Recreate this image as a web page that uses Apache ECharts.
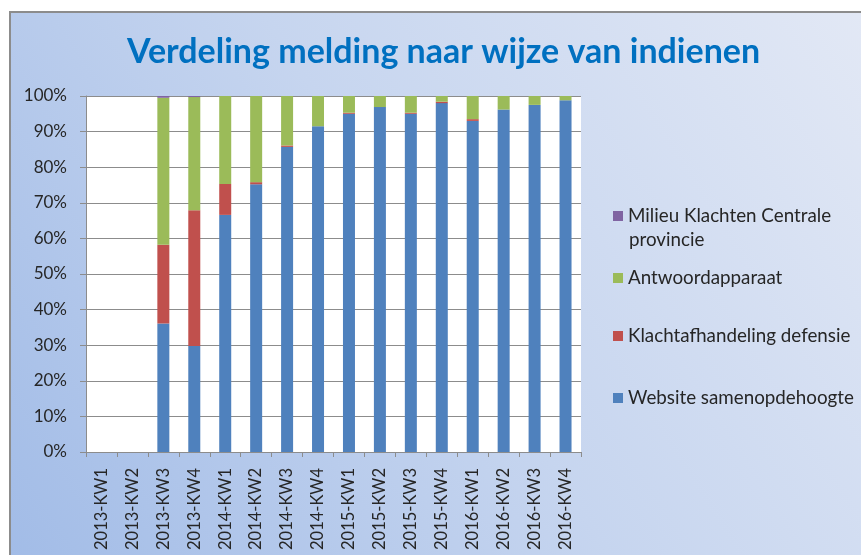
<!DOCTYPE html>
<html>
<head>
<meta charset="utf-8">
<script src="https://cdn.jsdelivr.net/npm/echarts@6/dist/echarts.min.js"></script>
<style>
  body { margin: 0; background: #fff; }
  #main {
    position: absolute; left: 9px; top: 11px;
    width: 852px; height: 544px;
    border-top: 2px solid #8c8c8c; border-left: 2px solid #8c8c8c;
    box-sizing: border-box;
  }
</style>
</head>
<body>
<div id="main"></div>
<script type="text/javascript">
// kwartalen
var categories = ['2013-KW1','2013-KW2','2013-KW3','2013-KW4','2014-KW1','2014-KW2','2014-KW3','2014-KW4',
                  '2015-KW1','2015-KW2','2015-KW3','2015-KW4','2016-KW1','2016-KW2','2016-KW3','2016-KW4'];
// aandeel per kanaal (%)
var website   = [0, 0, 36.1, 29.8, 66.6, 75.2, 85.7, 91.5, 95.0, 96.9, 95.0, 98.0, 93.0, 96.2, 97.5, 98.8];
var klacht    = [0, 0, 22.1, 38.1, 8.7, 0.6, 0.4, 0, 0.3, 0, 0.3, 0.4, 0.5, 0, 0, 0];
var antwoord  = [0, 0, 41.3, 31.8, 24.7, 24.2, 13.9, 8.5, 4.7, 3.1, 4.7, 1.6, 6.5, 3.8, 2.5, 1.2];
var milieu    = [0, 0, 0.5, 0.3, 0, 0, 0, 0, 0, 0, 0, 0, 0, 0, 0, 0];
var yTicks = ['0%','10%','20%','30%','40%','50%','60%','70%','80%','90%','100%'];

var font = 'Lato';
var chart = echarts.init(document.getElementById('main'));

function legendFor(name, top, extra) {
    return Object.assign({
        data: [name],
        orient: 'vertical',
        left: 602,
        top: top,
        padding: 0,
        icon: 'rect',
        itemWidth: 10,
        itemHeight: 10,
        itemGap: 0,
        selectedMode: false,
        textStyle: { fontFamily: font, fontSize: 18.8, color: '#262626', lineHeight: 24 }
    }, extra || {});
}

option = {
    backgroundColor: new echarts.graphic.LinearGradient(0, 1, 1, 0, [
        { offset: 0, color: '#a2bce7' },
        { offset: 0.5, color: '#c6d5ef' },
        { offset: 1, color: '#e2e8f5' }
    ]),
    animation: false,
    title: {
        text: 'Verdeling melding naar wijze van indienen',
        left: 111,
        top: 17,
        textStyle: { fontFamily: font, fontWeight: 'bold', fontSize: 34, color: '#0070C0' }
    },
    legend: [
        // eerste regel in de legenda, tweede regel hieronder als graphic
        legendFor('Milieu Klachten Centrale provincie', 191, {
            formatter: function () { return 'Milieu Klachten Centrale'; }
        }),
        legendFor('Antwoordapparaat', 253),
        legendFor('Klachtafhandeling defensie', 311),
        legendFor('Website samenopdehoogte', 373)
    ],
    graphic: [{
        type: 'text',
        left: 618,
        top: 215,
        style: { text: 'provincie', fontFamily: font, fontSize: 18.8, fill: '#262626', lineHeight: 24 }
    }],
    grid: {
        left: 75,
        top: 83,
        width: 495,
        height: 356,
        show: true,
        backgroundColor: '#ffffff',
        borderWidth: 0
    },
    xAxis: {
        type: 'category',
        data: categories,
        axisLine: { lineStyle: { color: '#8c8c8c', width: 1 } },
        axisTick: { show: true, alignWithLabel: false, length: 5, lineStyle: { color: '#8c8c8c' } },
        axisLabel: { rotate: 90, margin: 16, fontFamily: font, fontSize: 16.5, color: '#262626', interval: 0 }
    },
    yAxis: {
        type: 'value',
        min: 0,
        max: 100,
        interval: 10,
        axisLine: { show: true, lineStyle: { color: '#8c8c8c', width: 1 } },
        axisTick: { show: true, length: 6, lineStyle: { color: '#8c8c8c' } },
        splitLine: { lineStyle: { color: '#8c8c8c', width: 1 } },
        axisLabel: {
            margin: 19, fontFamily: font, fontSize: 17, color: '#262626',
            formatter: function (v) { return yTicks[Math.round(v / 10)]; }
        }
    },
    series: [
        { name: 'Website samenopdehoogte', type: 'bar', stack: 'totaal', barWidth: 12, data: website,
          itemStyle: { color: '#4F81BD' } },
        { name: 'Klachtafhandeling defensie', type: 'bar', stack: 'totaal', barWidth: 12, data: klacht,
          itemStyle: { color: '#C0504D' } },
        { name: 'Antwoordapparaat', type: 'bar', stack: 'totaal', barWidth: 12, data: antwoord,
          itemStyle: { color: '#9BBB59' } },
        { name: 'Milieu Klachten Centrale provincie', type: 'bar', stack: 'totaal', barWidth: 12, data: milieu,
          itemStyle: { color: '#8064A2' } }
    ]
};

chart.setOption(option);
</script>
</body>
</html>
